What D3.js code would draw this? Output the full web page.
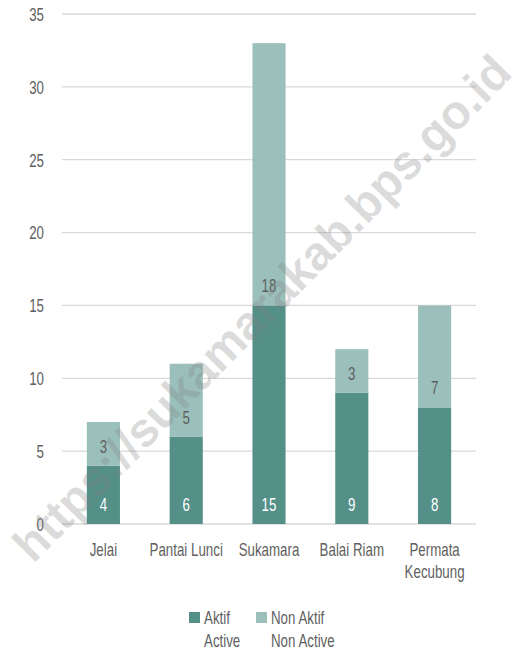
<!DOCTYPE html>
<html>
<head>
<meta charset="utf-8">
<script src="https://cdn.jsdelivr.net/npm/d3@7"></script>
<style>
  body { margin: 0; background: #fff; }
  svg text { font-family: "Liberation Sans", Arial, sans-serif; }
</style>
</head>
<body>
<div id="chart"></div>
<script>
// data
const categories = ["Jelai", "Pantai Lunci", "Sukamara", "Balai Riam", "Permata Kecubung"];
const aktif = [4, 6, 15, 9, 8];
const nonAktif = [3, 5, 18, 3, 7];
const yTicks = [0, 5, 10, 15, 20, 25, 30, 35];
const seriesNames = [["Aktif", "Active"], ["Non Aktif", "Non Active"]];

const width = 515, height = 651;
const margin = { top: 14, right: 39, bottom: 127, left: 62 };
const innerW = width - margin.left - margin.right;
const innerH = height - margin.top - margin.bottom;
const colors = ["#548f88", "#9bbfbb"];
const textColor = "#5f5f5f";
const fontSize = "18px";
const squeeze = 0.74; // narrow the font to look like a condensed face

const svg = d3.select("#chart").append("svg")
  .attr("width", width)
  .attr("height", height);

const g = svg.append("g")
  .attr("transform", `translate(${margin.left},${margin.top})`);

// condensed text placed at (px, py)
function label(parent, px, py, txt, anchor, fill) {
  return parent.append("text")
    .attr("transform", `translate(${px},${py}) scale(${squeeze},1)`)
    .attr("text-anchor", anchor)
    .attr("fill", fill)
    .style("font-size", fontSize)
    .text(txt);
}

const x = d3.scaleBand()
  .domain(categories)
  .range([0, innerW])
  .paddingInner(0.6)
  .paddingOuter(0.3);

const y = d3.scaleLinear()
  .domain([0, 35])
  .range([innerH, 0]);

// gridlines
g.append("g")
  .selectAll("line")
  .data(yTicks)
  .join("line")
  .attr("x1", 0)
  .attr("x2", innerW)
  .attr("y1", d => y(d))
  .attr("y2", d => y(d))
  .attr("stroke", "#d9d9d9")
  .attr("stroke-width", 1.3);

// y axis labels
const yAxis = g.append("g")
  .call(d3.axisLeft(y).tickValues(yTicks).tickSize(0));
yAxis.select(".domain").remove();
yAxis.attr("font-family", null).attr("font-size", null);
yAxis.selectAll("text")
  .attr("x", 0)
  .attr("dy", "0.35em")
  .attr("transform", `translate(-18,0) scale(${squeeze},1)`)
  .attr("fill", textColor)
  .style("font-size", fontSize);

// stacked data
const rows = categories.map((c, i) => ({ cat: c, aktif: aktif[i], nonAktif: nonAktif[i] }));
const stack = d3.stack().keys(["aktif", "nonAktif"])(rows);

const layers = g.append("g")
  .selectAll("g")
  .data(stack)
  .join("g")
  .attr("fill", (d, i) => colors[i]);

layers.selectAll("rect")
  .data(d => d)
  .join("rect")
  .attr("x", d => x(d.data.cat))
  .attr("width", x.bandwidth())
  .attr("y", d => y(d[1]))
  .attr("height", d => y(d[0]) - y(d[1]));

// value labels at the inside base of each segment
const valueLabels = g.append("g");
stack.forEach((layer, li) => {
  layer.forEach(d => {
    label(valueLabels, x(d.data.cat) + x.bandwidth() / 2, y(d[0]) - 13,
      d[1] - d[0], "middle", li === 0 ? "#ffffff" : textColor);
  });
});

// x axis labels
const xLabels = g.append("g");
categories.forEach(c => {
  const words = c === "Permata Kecubung" ? ["Permata", "Kecubung"] : [c];
  words.forEach((w, i) => {
    label(xLabels, x(c) + x.bandwidth() / 2, innerH + 32 + i * 22, w, "middle", textColor);
  });
});

// legend
const legend = svg.append("g")
  .attr("transform", "translate(189,612)");

const legendX = [0, 67];
seriesNames.forEach((names, i) => {
  const item = legend.append("g")
    .attr("transform", `translate(${legendX[i]},0)`);
  item.append("rect")
    .attr("width", 11)
    .attr("height", 11)
    .attr("fill", colors[i]);
  label(item, 15, 12, names[0], "start", textColor);
  label(item, 15, 35, names[1], "start", textColor);
});

// watermark
svg.append("text")
  .attr("transform", "translate(262,308) rotate(-45.5)")
  .attr("text-anchor", "middle")
  .attr("dominant-baseline", "central")
  .attr("fill", "#808080")
  .attr("fill-opacity", 0.28)
  .style("font-weight", "bold")
  .style("font-size", "48px")
  .attr("textLength", 686)
  .attr("lengthAdjust", "spacingAndGlyphs")
  .text("https://sukamarakab.bps.go.id");
</script>
</body>
</html>
